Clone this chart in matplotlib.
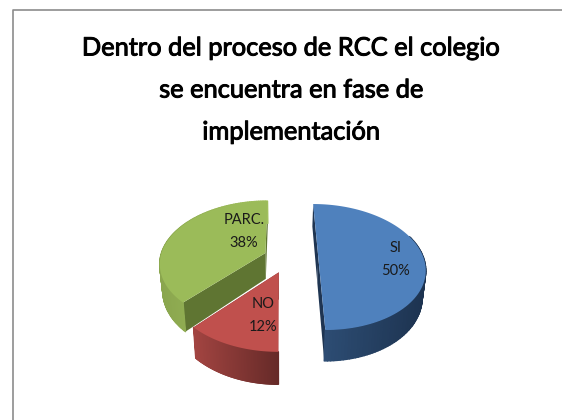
import numpy as np
import matplotlib
matplotlib.use("Agg")
import matplotlib.pyplot as plt
import matplotlib.patheffects as pe
from matplotlib.colors import to_rgb
from matplotlib.collections import PolyCollection
from matplotlib.patches import Polygon

title = "Dentro del proceso de RCC el colegio\nse encuentra en fase de\nimplementación"
categories = ["SI", "NO", "PARC."]
values = [50, 12, 38]

top_colors = ["#4f81bd", "#c0504d", "#9bbb59"]
wall_left = ["#2f5078", "#a24441", "#8aa64e"]
wall_right = ["#1d3350", "#662a28", "#a3c25f"]
cut_colors = ["#1f3552", "#7a3331", "#5f7532"]
apex = {"SI": (0.355, 0.0), "NO": (-0.02, -0.24), "PARC.": (-0.15, 0.065)}
label_xy = {"SI": (396, 259.5), "NO": (263, 315.5), "PARC.": (244, 231.5)}

CX, CY, R, H, K, D = 281.0, 257.0, 105.0, 61.4, 0.159, 26.0

fig = plt.figure(figsize=(5.62, 4.2), dpi=100, facecolor="white")
ax = fig.add_axes([0, 0, 1, 1])
ax.set_xlim(0, 562)
ax.set_ylim(420, 0)
ax.axis("off")

def project(u, v, low=False):
    s = 1.0 / (1.0 + K * v)
    x = CX + R * u * s * (0.975 if low else 1.0)
    y = CY + ((D if low else 0.0) - H * v) * s
    return np.column_stack([x, y])

def mix(a, b, t):
    a, b = np.array(to_rgb(a)), np.array(to_rgb(b))
    return tuple(a + (b - a) * t)

ax.plot([12.5, 12.5, 562], [420, 9.5, 9.5], color="#8c8c8c", lw=1.2, zorder=1)

fractions = np.array(values, dtype=float) / sum(values)
ends = np.cumsum(fractions) * 2 * np.pi
starts = ends - fractions * 2 * np.pi
slices = {c: (s, e, i) for i, (c, s, e) in enumerate(zip(categories, starts, ends))}

for name in ["PARC.", "SI", "NO"]:
    a0, a1, i = slices[name]
    ex, ey = apex[name]
    th = np.linspace(a0, a1, 120)
    u, v = ex + np.sin(th), ey + np.cos(th)
    up = project(u, v)
    lo = project(u, v, True)
    ap_up = project(np.array([ex]), np.array([ey]))
    ap_lo = project(np.array([ex]), np.array([ey]), True)

    for edge in (0, -1):
        quad = np.vstack([ap_up, up[edge], lo[edge], ap_lo])
        ax.add_patch(Polygon(quad, closed=True, fc=cut_colors[i], ec="none", zorder=3))

    quads, cols = [], []
    xmin, xmax = up[:, 0].min(), up[:, 0].max()
    for j in range(len(th) - 1):
        if np.cos(th[j]) > 0.35 and name != "PARC.":
            continue
        quads.append([up[j], up[j + 1], lo[j + 1], lo[j]])
        t = (up[j, 0] - xmin) / (xmax - xmin)
        cols.append(mix(wall_left[i], wall_right[i], t))
    ax.add_collection(PolyCollection(quads, facecolors=cols, edgecolors=cols, linewidths=1.0, zorder=3))

    ax.add_patch(Polygon(np.vstack([ap_up, up]), closed=True, fc=top_colors[i], ec="none", zorder=4))

    lx, ly = label_xy[name]
    ax.text(lx, ly, f"{name}\n{values[i]}%", ha="center", va="center", fontsize=10.5,
            family="Lato", color="#1a1a1a", linespacing=1.8, zorder=5)

t = ax.text(291, 90, title, ha="center", va="center", fontsize=18.3, family="Lato",
            color="black", linespacing=2.0, zorder=5)
t.set_path_effects([pe.withStroke(linewidth=0.7, foreground="black")])

fig.savefig("out.png", dpi=100, facecolor="white")
